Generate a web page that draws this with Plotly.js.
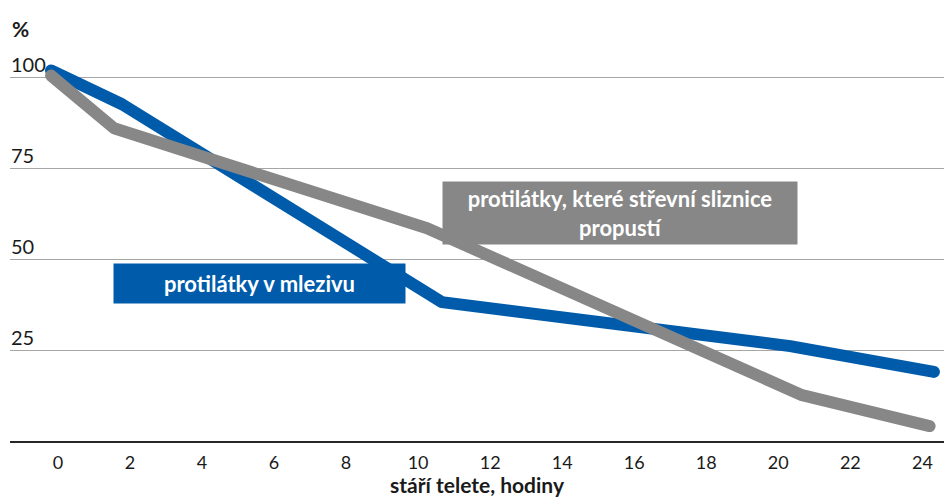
<!DOCTYPE html>
<html>
<head>
<meta charset="utf-8">
<script src="https://cdn.plot.ly/plotly-3.0.1.min.js"></script>
<style>
html,body{margin:0;padding:0;background:#fff;}
#chart{width:944px;height:497px;}
</style>
</head>
<body>
<div id="chart"></div>
<script>
// Data
var xTickVals = [0, 2, 4, 6, 8, 10, 12, 14, 16, 18, 20, 22, 24];
var yTickVals = [25, 50, 75, 100];
var yTickText = ["25", "50", "75", "100"];

var colostrumHours = [-0.19, 1.78, 10.66, 20.33, 24.32];
var colostrumValues = [101.9, 92.6, 38.2, 26.1, 19.0];

var absorbedHours = [-0.19, 1.56, 10.25, 20.66, 24.2];
var absorbedValues = [100.5, 86.0, 58.5, 12.6, 4.1];

var labelColostrum = "protilátky v mlezivu";
var labelAbsorbed = "protilátky, které střevní sliznice<br>propustí";
var xTitle = "stáří telete, hodiny";
var yUnit = "%";

var blue = "#005BAA";
var gray = "#878787";
var font = "Lato, 'Open Sans', sans-serif";

var traces = [
  {x: colostrumHours, y: colostrumValues, mode: "lines", type: "scatter",
   line: {color: blue, width: 12}, hoverinfo: "skip"},
  {x: absorbedHours, y: absorbedValues, mode: "lines", type: "scatter",
   line: {color: gray, width: 12}, hoverinfo: "skip"}
];

var layout = {
  width: 944, height: 497,
  margin: {l: 10, r: 0, t: 41, b: 56, pad: 0},
  paper_bgcolor: "#fff", plot_bgcolor: "#fff",
  showlegend: false,
  font: {family: font, color: "#1a1a1a"},
  xaxis: {
    range: [-1.33, 24.6],
    tickvals: xTickVals,
    ticktext: xTickVals.map(String),
    ticks: "", showgrid: false, zeroline: false,
    showline: true, linecolor: "#262626", linewidth: 2,
    ticklabelstandoff: 4,
    tickfont: {family: font, size: 18, color: "#1a1a1a"},
    title: {text: "<b>" + xTitle + "</b>", font: {family: font, size: 21, color: "#1a1a1a"}, standoff: 3},
    fixedrange: true
  },
  yaxis: {
    range: [0, 110],
    tickvals: yTickVals,
    ticktext: yTickText,
    ticks: "", showgrid: true, gridcolor: "#A6A6A6", gridwidth: 1,
    zeroline: false, showline: false,
    ticklabelposition: "inside",
    ticklabelshift: -12,
    ticklabelstandoff: -2,
    tickfont: {family: font, size: 20, color: "#1a1a1a"},
    fixedrange: true
  },
  annotations: [
    {xref: "paper", yref: "paper", x: 0.2671, y: 0.3934, xanchor: "center", yanchor: "middle",
     text: "<b>" + labelColostrum + "</b>", showarrow: false,
     bgcolor: blue, width: 291, height: 39, borderpad: 0,
     font: {family: font, size: 22, color: "#fff"}},
    {xref: "paper", yref: "paper", x: 0.6531, y: 0.5694, xanchor: "center", yanchor: "middle",
     text: "<b>" + labelAbsorbed + "</b>", showarrow: false,
     bgcolor: gray, width: 354, height: 62, borderpad: 0,
     font: {family: font, size: 22, color: "#fff"}},
    {xref: "paper", yref: "paper", x: 0.0, y: 1.031, xanchor: "left", yanchor: "middle",
     text: "<b>" + yUnit + "</b>", showarrow: false,
     font: {family: font, size: 21, color: "#1a1a1a"}}
  ]
};

Plotly.newPlot("chart", traces, layout, {displayModeBar: false, staticPlot: true}).then(function(gd){
  var paths = gd.querySelectorAll(".scatterlayer .js-line");
  paths.forEach(function(p){
    p.style.strokeLinecap = "round";
    p.style.strokeLinejoin = "round";
  });
});
</script>
</body>
</html>
